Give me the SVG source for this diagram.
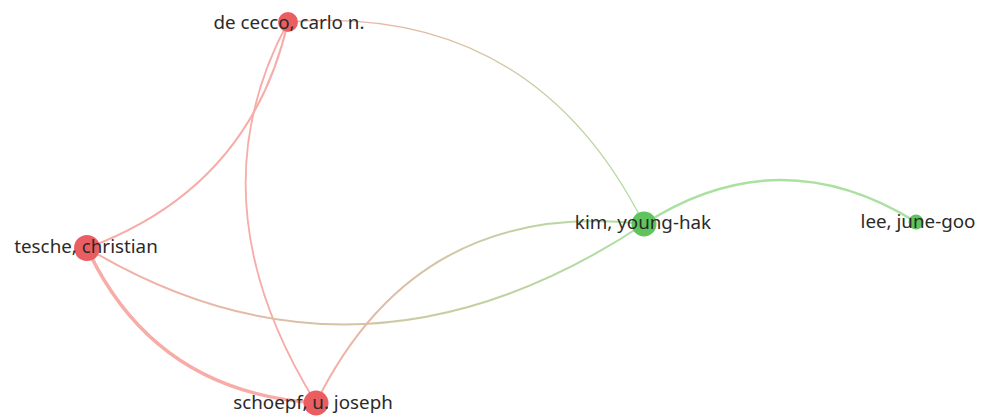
<svg xmlns="http://www.w3.org/2000/svg" width="982" height="419" viewBox="0 0 982 419">
  <style>
    .edge { fill: none; stroke-linecap: round; }
    .red { stroke: #f7aca7; }
    .green { stroke: #abe0a1; }
    .node-red { fill: #ea5e62; }
    .node-green { fill: #60c45d; }
    .label { font-family: "Noto Sans", "Open Sans", sans-serif; font-size: 18.8px; fill: #2a2a2a; text-anchor: middle; }
  </style>
  <defs>
    <linearGradient id="g-cecco-kim" gradientUnits="userSpaceOnUse" x1="288" y1="22" x2="644" y2="224">
      <stop offset="0" stop-color="#f7aca7"/>
      <stop offset="1" stop-color="#abe0a1"/>
    </linearGradient>
    <linearGradient id="g-tesche-kim" gradientUnits="userSpaceOnUse" x1="87" y1="248" x2="644" y2="224">
      <stop offset="0" stop-color="#f7aca7"/>
      <stop offset="1" stop-color="#abe0a1"/>
    </linearGradient>
    <linearGradient id="g-schoepf-kim" gradientUnits="userSpaceOnUse" x1="316" y1="403" x2="644" y2="224">
      <stop offset="0" stop-color="#f7aca7"/>
      <stop offset="1" stop-color="#abe0a1"/>
    </linearGradient>
  </defs>

  <g id="edges">
    <path class="edge red" stroke-width="2" d="M288,22 Q250,188 87,248"/>
    <path class="edge red" stroke-width="1.8" d="M288,22 Q191,202 316,403"/>
    <path class="edge red" stroke-width="3.5" d="M87,248 Q154,392 316,403"/>
    <path class="edge" stroke="url(#g-cecco-kim)" stroke-width="1.3" d="M288,22 Q532,2 644,224"/>
    <path class="edge" stroke="url(#g-tesche-kim)" stroke-width="2" d="M87,248 Q360,412 644,224"/>
    <path class="edge" stroke="url(#g-schoepf-kim)" stroke-width="2" d="M316,403 Q417,198 644,224"/>
    <path class="edge green" stroke-width="2.5" d="M644,224 Q779,137 916,222"/>
  </g>

  <g id="node-de-cecco">
    <circle class="node-red" cx="288" cy="22" r="10"/>
    <text class="label" x="289" y="29">de cecco, carlo n.</text>
  </g>
  <g id="node-tesche">
    <circle class="node-red" cx="87" cy="248" r="13"/>
    <text class="label" x="86" y="253">tesche, christian</text>
  </g>
  <g id="node-schoepf">
    <circle class="node-red" cx="316" cy="403" r="12.5"/>
    <text class="label" x="313" y="409">schoepf, u. joseph</text>
  </g>
  <g id="node-kim">
    <circle class="node-green" cx="644" cy="224" r="12.5"/>
    <text class="label" x="643" y="229">kim, young-hak</text>
  </g>
  <g id="node-lee">
    <circle class="node-green" cx="916" cy="222" r="7.5"/>
    <text class="label" x="918" y="228">lee, june-goo</text>
  </g>
</svg>
